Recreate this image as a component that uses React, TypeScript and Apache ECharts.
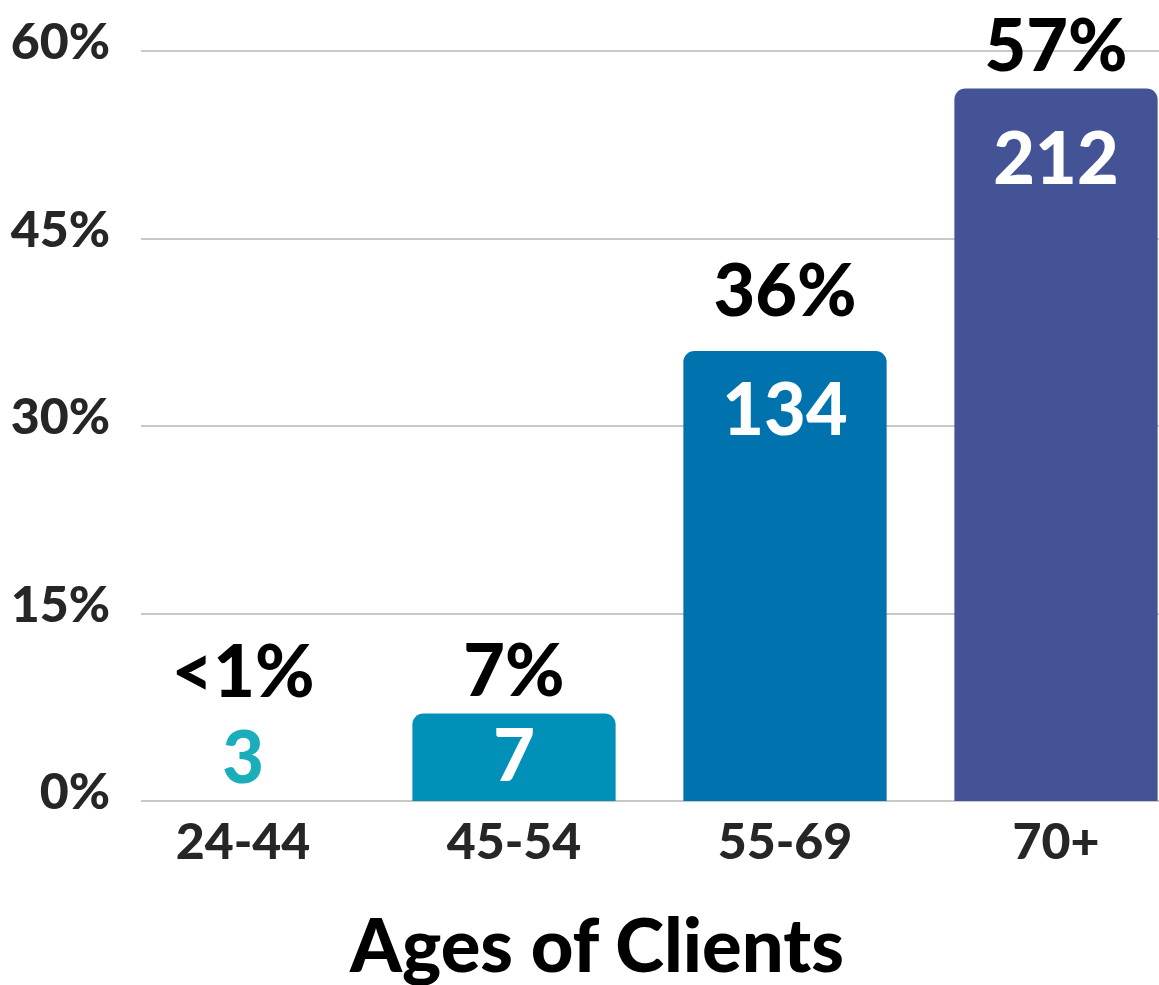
import React, { useEffect, useRef } from "react";
import * as echarts from "echarts";

const categories = ["24-44", "45-54", "55-69", "70+"];
const percentValues = [0.8, 7, 36, 57];
const percentLabels = ["<1%", "7%", "36%", "57%"];
const clientCounts = [3, 7, 134, 212];
const barColors = ["#1aaebb", "#0090b8", "#0072ae", "#435396"];
const yTicks = { min: 0, max: 60, interval: 15 };
const axisTitle = "Ages of Clients";

const FONT = "Lato, 'Noto Sans', sans-serif";

export default function App() {
  const ref = useRef<HTMLDivElement>(null);
  useEffect(() => {
    if (!ref.current) return;
    const chart = echarts.init(ref.current, null, { renderer: "svg" });
    const countDistances = [0, 3, 20, 31];
    const pctDistances = [86, 10, 27, 10];
    const barData = percentValues.map((v, i) => {
      const item: any = {
        value: v,
        itemStyle: { color: i === 0 ? "transparent" : barColors[i] },
        label: { distance: countDistances[i] },
      };
      if (i === 0) {
        item.label = { position: "top", distance: 0, color: barColors[0] };
      }
      return item;
    });
    const pctData = percentValues.map((v, i) => ({
      value: v,
      label: { distance: pctDistances[i] },
    }));
    chart.setOption({
      animation: false,
      grid: [
        { left: 107.5, width: 1084, top: 51, height: 750 },
        { left: 141, width: 1050, top: 51, height: 750 },
      ],
      xAxis: [
        {
          type: "category",
          gridIndex: 0,
          data: categories,
          axisLine: { show: false },
          axisTick: { show: false },
          axisLabel: {
            fontFamily: FONT,
            fontSize: 50,
            fontWeight: 900,
            color: "#262626",
            margin: 14,
          },
        },
        { type: "value", gridIndex: 1, show: false, min: 0, max: 1 },
      ],
      yAxis: [
        { type: "value", gridIndex: 0, show: false, ...yTicks },
        {
          type: "value",
          gridIndex: 1,
          ...yTicks,
          axisLine: { show: false },
          axisTick: { show: false },
          splitLine: { lineStyle: { color: "#c8c8c8", width: 2 } },
          axisLabel: {
            formatter: "{value}%",
            fontFamily: FONT,
            fontSize: 50,
            fontWeight: 900,
            color: "#262626",
            margin: 31,
            verticalAlign: "bottom",
            lineHeight: 22,
          },
        },
      ],
      series: [
        {
          type: "scatter",
          xAxisIndex: 1,
          yAxisIndex: 1,
          data: [],
          silent: true,
        },
        {
          type: "bar",
          xAxisIndex: 0,
          yAxisIndex: 0,
          barWidth: "75%",
          data: barData,
          itemStyle: { borderRadius: [11, 11, 0, 0] },
          label: {
            show: true,
            position: "insideTop",
            formatter: (p: any) => String(clientCounts[p.dataIndex]),
            fontFamily: FONT,
            fontSize: 72,
            fontWeight: 900,
            color: "#ffffff",
          },
          z: 3,
        },
        {
          type: "bar",
          xAxisIndex: 0,
          yAxisIndex: 0,
          barWidth: "75%",
          barGap: "-100%",
          data: pctData,
          itemStyle: { color: "transparent" },
          label: {
            show: true,
            position: "top",
            formatter: (p: any) => percentLabels[p.dataIndex],
            fontFamily: FONT,
            fontSize: 72,
            fontWeight: 900,
            color: "#000000",
          },
          z: 4,
        },
      ],
      graphic: [
        {
          type: "text",
          x: 597,
          y: 910,
          style: {
            text: axisTitle,
            fontFamily: FONT,
            fontSize: 74,
            fontWeight: 900,
            lineHeight: 66,
            fill: "#000000",
            align: "center",
            verticalAlign: "top",
          },
        },
      ],
    });
    return () => chart.dispose();
  }, []);
  return (
    <div
      style={{
        position: "absolute",
        left: 0,
        top: 0,
        width: 1159,
        height: 985,
        overflow: "hidden",
      }}
    >
      <div ref={ref} style={{ width: 1200, height: 985 }} />
    </div>
  );
}
